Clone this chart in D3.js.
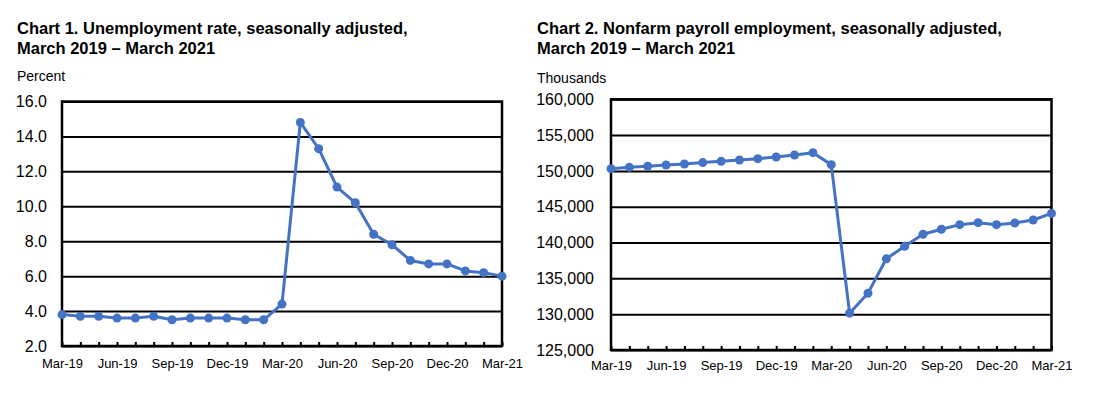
<!DOCTYPE html>
<html>
<head>
<meta charset="utf-8">
<script src="https://cdn.jsdelivr.net/npm/d3@7"></script>
<style>
  body { margin: 0; background: #fff; }
  svg { display: block; font-family: "Liberation Sans", Arial, sans-serif; }
</style>
</head>
<body>
<div id="chart"></div>
<script>
// Monthly categories, March 2019 - March 2021
const months = ["Mar-19", "Apr-19", "May-19", "Jun-19", "Jul-19", "Aug-19", "Sep-19", "Oct-19",
    "Nov-19", "Dec-19", "Jan-20", "Feb-20", "Mar-20", "Apr-20", "May-20", "Jun-20", "Jul-20",
    "Aug-20", "Sep-20", "Oct-20", "Nov-20", "Dec-20", "Jan-21", "Feb-21", "Mar-21"];
const monthLabels = ["Mar-19", "Jun-19", "Sep-19", "Dec-19", "Mar-20", "Jun-20", "Sep-20", "Dec-20", "Mar-21"];

// Chart 1 values (percent)
const unemploymentRate = [3.8, 3.7, 3.7, 3.6, 3.6, 3.7, 3.5, 3.6, 3.6, 3.6, 3.5, 3.5, 4.4,
    14.8, 13.3, 11.1, 10.2, 8.4, 7.8, 6.9, 6.7, 6.7, 6.3, 6.2, 6.0];
const rateTicks = [2, 4, 6, 8, 10, 12, 14, 16];

// Chart 2 values (thousands)
const payrollEmployment = [150300, 150500, 150650, 150830, 150970, 151160, 151340, 151530,
    151710, 151940, 152220, 152550, 150880, 130140, 132920, 137730, 139490, 141160, 141850,
    142500, 142780, 142500, 142730, 143150, 144070];
const payrollTicks = [125000, 130000, 135000, 140000, 145000, 150000, 155000, 160000];

const lineColor = "#4472c4";

const svg = d3.select("#chart").append("svg")
    .attr("width", 1100)
    .attr("height", 393);

function drawChart(opts) {
    const g = svg.append("g");

    // Title, two lines
    const title = g.append("text")
        .attr("x", opts.titleX)
        .attr("y", 34)
        .style("font-size", "16.5px")
        .style("font-weight", "bold")
        .attr("fill", "#000");
    opts.title.forEach((t, i) => {
        title.append("tspan")
            .attr("x", opts.titleX)
            .attr("dy", i === 0 ? 0 : 20)
            .text(t);
    });

    // Unit label
    g.append("text")
        .attr("x", opts.titleX)
        .attr("y", opts.unitY)
        .style("font-size", "14px")
        .text(opts.unit);

    const left = opts.left, top = opts.top;
    const width = opts.width, height = opts.height;

    const plot = g.append("g")
        .attr("transform", `translate(${left},${top})`);

    const x = d3.scalePoint()
        .domain(months)
        .range([0, width]);

    const y = d3.scaleLinear()
        .domain(opts.domain)
        .range([height, 0]);

    // Gridlines + y labels
    const yAxis = plot.append("g")
        .call(d3.axisLeft(y)
            .tickValues(opts.ticks)
            .tickSize(-width)
            .tickPadding(opts.labelPad)
            .tickFormat(opts.format));
    yAxis.select(".domain").remove();
    yAxis.selectAll(".tick line").attr("stroke", "#000").attr("stroke-width", 2);
    yAxis.selectAll(".tick text")
        .attr("fill", "#000")
        .style("font-size", "16px")
        .style("font-family", "Liberation Sans, Arial, sans-serif");

    // Small month ticks inside the bottom edge
    const monthTicks = plot.append("g")
        .attr("transform", `translate(0,${height})`)
        .call(d3.axisBottom(x).tickSize(-4).tickFormat(""));
    monthTicks.select(".domain").remove();
    monthTicks.selectAll(".tick line").attr("stroke", "#000").attr("stroke-width", 2);

    // Quarterly labels
    const xAxis = plot.append("g")
        .attr("transform", `translate(0,${height})`)
        .call(d3.axisBottom(x).tickValues(monthLabels).tickSize(0).tickPadding(opts.xPad));
    xAxis.select(".domain").remove();
    xAxis.selectAll(".tick text")
        .attr("fill", "#000")
        .style("font-size", "13px")
        .style("font-family", "Liberation Sans, Arial, sans-serif");

    // Frame
    plot.append("rect")
        .attr("width", width)
        .attr("height", height)
        .attr("fill", "none")
        .attr("stroke", "#000")
        .attr("stroke-width", 2.5);

    // Line and markers
    const line = d3.line()
        .x((d, i) => x(months[i]))
        .y(d => y(d));

    plot.append("path")
        .datum(opts.values)
        .attr("d", line)
        .attr("fill", "none")
        .attr("stroke", lineColor)
        .attr("stroke-width", 3)
        .attr("stroke-linejoin", "round");

    plot.selectAll("circle")
        .data(opts.values)
        .join("circle")
        .attr("cx", (d, i) => x(months[i]))
        .attr("cy", d => y(d))
        .attr("r", 4.5)
        .attr("fill", lineColor);
}

drawChart({
    title: ["Chart 1. Unemployment rate, seasonally adjusted,", "March 2019 \u2013 March 2021"],
    titleX: 17,
    unit: "Percent",
    unitY: 81,
    left: 62, top: 101.5, width: 440, height: 244.5,
    domain: [2, 16],
    ticks: rateTicks,
    format: d3.format(".1f"),
    labelPad: 15,
    xPad: 13,
    values: unemploymentRate
});

drawChart({
    title: ["Chart 2. Nonfarm payroll employment, seasonally adjusted,", "March 2019 \u2013 March 2021"],
    titleX: 537,
    unit: "Thousands",
    unitY: 83,
    left: 611, top: 99.3, width: 440.5, height: 250.7,
    domain: [125000, 160000],
    ticks: payrollTicks,
    format: d3.format(","),
    labelPad: 17,
    xPad: 11,
    values: payrollEmployment
});
</script>
</body>
</html>
